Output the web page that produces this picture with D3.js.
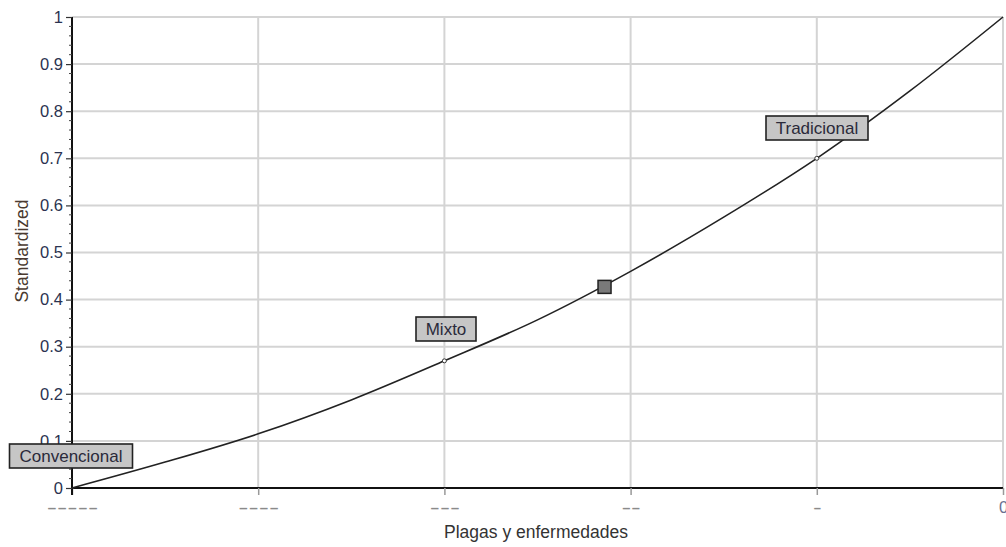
<!DOCTYPE html>
<html><head><meta charset="utf-8">
<script src="https://cdn.jsdelivr.net/npm/d3@7"></script>
<style>body{margin:0;background:#fff}svg{display:block;font-family:"Liberation Sans",Arial,sans-serif}</style>
</head><body><svg id="c" width="1006" height="547"></svg>
<script>
const xTickValues = [0, 1, 2, 3, 4, 5];
const xTickLabels = ["-----", "----", "---", "--", "-", "0"];
const yTickValues = [0, 0.1, 0.2, 0.3, 0.4, 0.5, 0.6, 0.7, 0.8, 0.9, 1];
const curveX = [0, 0.5, 1, 1.5, 2, 2.5, 3, 3.5, 4, 4.5, 5];
const curveY = [0, 0.055, 0.115, 0.187, 0.27, 0.357, 0.46, 0.575, 0.70, 0.843, 1.0];
const labelNames = ["Convencional", "Mixto", "Tradicional"];
const labelX = [0, 2, 4];
const labelY = [0, 0.27, 0.70];
const currentX = [2.86];
const currentY = [0.427];

const svg = d3.select("#c");
const x = d3.scaleLinear().domain([0, 5]).range([72, 1003]);
const y = d3.scaleLinear().domain([0, 1]).range([488, 17]);
const FS = 16.5;

// gridlines
svg.append("g").selectAll("line").data(yTickValues.slice(1)).join("line")
  .attr("x1", 72).attr("x2", 1003).attr("y1", d => y(d)).attr("y2", d => y(d))
  .attr("stroke", "#d4d4d4").attr("stroke-width", 2);
svg.append("g").selectAll("line").data(xTickValues.slice(1)).join("line")
  .attr("y1", 17).attr("y2", 488).attr("x1", d => x(d)).attr("x2", d => x(d))
  .attr("stroke", "#d4d4d4").attr("stroke-width", 2);

// x axis
const xAxis = svg.append("g").attr("transform", "translate(0,488)")
  .call(d3.axisBottom(x).tickValues(xTickValues).tickFormat((d, i) => xTickLabels[i]).tickSize(7).tickPadding(6));
xAxis.select(".domain").attr("stroke", "#111").attr("stroke-width", 2).attr("d", "M72,0H1003");
xAxis.selectAll(".tick line").attr("stroke", "#999").attr("stroke-width", 1.5);
xAxis.selectAll(".tick text").attr("fill", "#8a8a8a").attr("font-size", FS)
  .attr("font-family", "Liberation Sans, Arial, sans-serif")
  .attr("y", 13)
  .each(function(d, i) {
    const s = xTickLabels[i];
    if (/^-+$/.test(s)) {
      d3.select(this).attr("font-size", 19)
        .attr("textLength", s.length * 10.7 - 2).attr("lengthAdjust", "spacingAndGlyphs");
    } else {
      d3.select(this).attr("fill", "#6a7090");
    }
  });

// y axis
const yAxis = svg.append("g").attr("transform", "translate(72,0)")
  .call(d3.axisLeft(y).tickValues(yTickValues).tickFormat(d3.format("")).tickSize(6).tickPadding(3));
yAxis.select(".domain").attr("stroke", "#111").attr("stroke-width", 2).attr("d", "M0,17V495");
yAxis.selectAll(".tick line").attr("stroke", "#333").attr("stroke-width", 1.2);
yAxis.selectAll(".tick text").attr("fill", "#2b3350").attr("font-size", FS)
  .attr("font-family", "Liberation Sans, Arial, sans-serif");
// minor ticks
const minor = d3.range(0, 50).map(i => i * 0.02).filter(v => Math.round(v * 100) % 10 !== 0);
svg.append("g").selectAll("line").data(minor).join("line")
  .attr("x1", 69).attr("x2", 72).attr("y1", d => y(d)).attr("y2", d => y(d))
  .attr("stroke", "#444").attr("stroke-width", 1);

// axis titles
svg.append("text").attr("x", 536).attr("y", 538).attr("text-anchor", "middle")
  .attr("font-size", 17.5).attr("fill", "#333").text("Plagas y enfermedades");
svg.append("text").attr("transform", "translate(28,251) rotate(-90)").attr("text-anchor", "middle")
  .attr("font-size", 17.5).attr("fill", "#4a3a30").text("Standardized");

// curve
const pts = curveX.map((v, i) => [v, curveY[i]]);
svg.append("path").datum(pts)
  .attr("d", d3.line().x(d => x(d[0])).y(d => y(d[1])).curve(d3.curveMonotoneX))
  .attr("fill", "none").attr("stroke", "#222").attr("stroke-width", 1.6);

// label points
svg.append("g").selectAll("circle").data(labelX.slice(1)).join("circle")
  .attr("cx", d => x(d)).attr("cy", (d, i) => y(labelY[i + 1])).attr("r", 2)
  .attr("fill", "#fff").attr("stroke", "#333").attr("stroke-width", 1);

// current marker
svg.append("rect").attr("x", x(currentX[0]) - 6.5).attr("y", y(currentY[0]) - 6.5)
  .attr("width", 13).attr("height", 13).attr("fill", "#7a7a7a").attr("stroke", "#222").attr("stroke-width", 1.5);

// label boxes
const boxes = [
  {cx: 71, cy: 456, w: 123, h: 24},
  {cx: 446, cy: 329, w: 60, h: 24},
  {cx: 817, cy: 128, w: 102, h: 24}
];
labelNames.forEach((n, i) => {
  const b = boxes[i];
  svg.append("rect").attr("x", b.cx - b.w / 2).attr("y", b.cy - b.h / 2).attr("width", b.w).attr("height", b.h)
    .attr("fill", "#c6c6c6").attr("stroke", "#222").attr("stroke-width", 1.6);
  svg.append("text").attr("x", b.cx).attr("y", b.cy + 6).attr("text-anchor", "middle")
    .attr("font-size", 17).attr("fill", "#2a2a3a").text(n);
});
</script></body></html>
